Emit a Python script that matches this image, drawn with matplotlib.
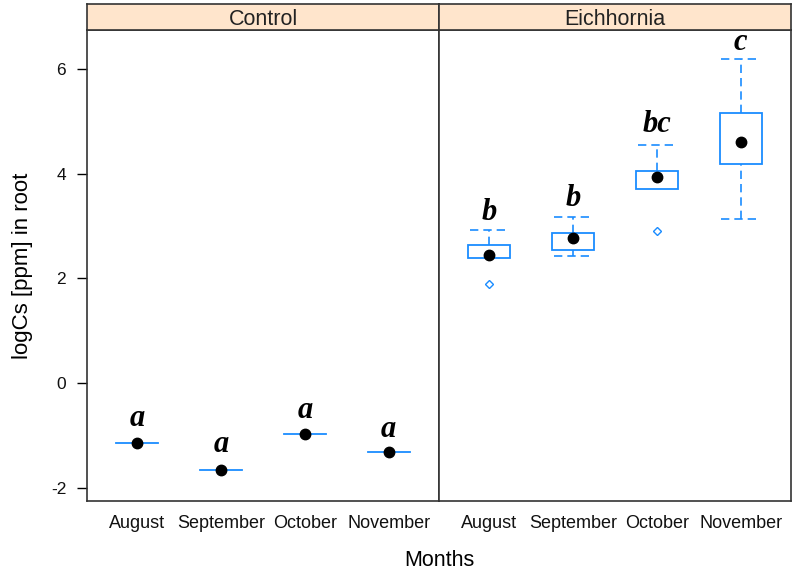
import matplotlib
matplotlib.use("Agg")
import matplotlib.pyplot as plt
from matplotlib.patches import Rectangle

plt.rcParams['font.family'] = ['Liberation Sans', 'DejaVu Sans']

months = ["August", "September", "October", "November"]
panels = ["Control", "Eichhornia"]

# per panel: lower whisker, box bottom (Q1), median, box top (Q3), upper whisker
ctrl_low = [-1.14, -1.66, -0.98, -1.31]
ctrl_q1 = [-1.14, -1.66, -0.98, -1.31]
ctrl_med = [-1.14, -1.66, -0.98, -1.31]
ctrl_q3 = [-1.14, -1.66, -0.98, -1.31]
ctrl_high = [-1.14, -1.66, -0.98, -1.31]
ctrl_out = [[], [], [], []]
ctrl_letters = ["a", "a", "a", "a"]
ctrl_letter_y = [-0.81, -1.31, -0.67, -1.03]

eich_low = [2.39, 2.42, 3.71, 3.13]
eich_q1 = [2.39, 2.55, 3.71, 4.18]
eich_med = [2.44, 2.77, 3.93, 4.60]
eich_q3 = [2.63, 2.86, 4.05, 5.16]
eich_high = [2.92, 3.18, 4.55, 6.19]
eich_out = [[1.90], [], [2.91], []]
eich_letters = ["b", "b", "bc", "c"]
eich_letter_y = [3.12, 3.39, 4.79, 6.35]

data = {
    "Control": (ctrl_low, ctrl_q1, ctrl_med, ctrl_q3, ctrl_high, ctrl_out, ctrl_letters, ctrl_letter_y),
    "Eichhornia": (eich_low, eich_q1, eich_med, eich_q3, eich_high, eich_out, eich_letters, eich_letter_y),
}

blue = "#1a8cff"
W, H = 792, 575
fig = plt.figure(figsize=(W / 100, H / 100), dpi=100)

px = lambda x0, y0, x1, y1: [x0 / W, 1 - y1 / H, (x1 - x0) / W, (y1 - y0) / H]
panel_x = [(87, 439), (439, 791)]
ptop, pbot = 30, 501
stop = 4

ylim = (-2.25, 6.74)
bw = 0.5
dash = (0, (5, 3))

for i, name in enumerate(panels):
    x0, x1 = panel_x[i]
    ax = fig.add_axes(px(x0, ptop, x1, pbot))
    sax = fig.add_axes(px(x0, stop, x1, ptop))
    low, q1, med, q3, high, outs, letters, ly = data[name]
    pos = list(range(1, len(months) + 1))
    for p, lo, a, m, b, hi, out, lt, yy in zip(pos, low, q1, med, q3, high, outs, letters, ly):
        if hi > b:
            ax.plot([p, p], [b, hi], color=blue, ls=dash, lw=1.2)
            ax.plot([p - bw / 2 + 0.02, p + bw / 2 - 0.02], [hi, hi], color=blue, ls=dash, lw=1.2)
        if lo < a:
            ax.plot([p, p], [lo, a], color=blue, ls=dash, lw=1.2)
            ax.plot([p - bw / 2 + 0.02, p + bw / 2 - 0.02], [lo, lo], color=blue, ls=dash, lw=1.2)
        if b > a:
            ax.add_patch(Rectangle((p - bw / 2, a), bw, b - a, fill=False, ec=blue, lw=1.3))
        else:
            ax.plot([p - bw / 2, p + bw / 2], [a, a], color=blue, lw=1.3)
        ax.plot([p], [m], 'o', color='black', ms=7.5, zorder=5)
        for o in out:
            ax.plot([p], [o], 'D', mfc='white', mec=blue, ms=4.5, mew=1.0, zorder=5)
        ax.text(p, yy, lt, ha='center', va='baseline', fontsize=22,
                fontweight='bold', fontstyle='italic', family=['Liberation Serif', 'DejaVu Serif'])
    ax.set_xlim(0.4, 4.6)
    ax.set_ylim(*ylim)
    ax.set_xticks(pos)
    ax.set_xticklabels(months, fontsize=13, color='#111111')
    ax.tick_params(axis='x', length=0, pad=10)
    if i == 0:
        ax.set_yticks([-2, 0, 2, 4, 6])
        ax.set_yticklabels(["-2", "0", "2", "4", "6"], fontsize=12.5, color='#111111')
        ax.tick_params(axis='y', direction='out', length=7, width=1, pad=8)
        ax.set_ylabel("logCs [ppm] in root", fontsize=16)
        ax.yaxis.set_label_coords((33 - 87) / 351, 0.5)
    else:
        ax.set_yticks([])
    for s in ax.spines.values():
        s.set_color('#333333')
        s.set_linewidth(1.2)
    sax.set_facecolor('#ffe5cc')
    sax.set_xticks([])
    sax.set_yticks([])
    for s in sax.spines.values():
        s.set_color('#333333')
        s.set_linewidth(1.2)
    sax.text(0.5, 0.4, name, ha='center', va='center', fontsize=15.5, color='#222222',
             transform=sax.transAxes)

fig.text(439 / W, 1 - 560 / H, "Months", ha='center', va='center', fontsize=15.5)

fig.savefig("out.png", dpi=100)
